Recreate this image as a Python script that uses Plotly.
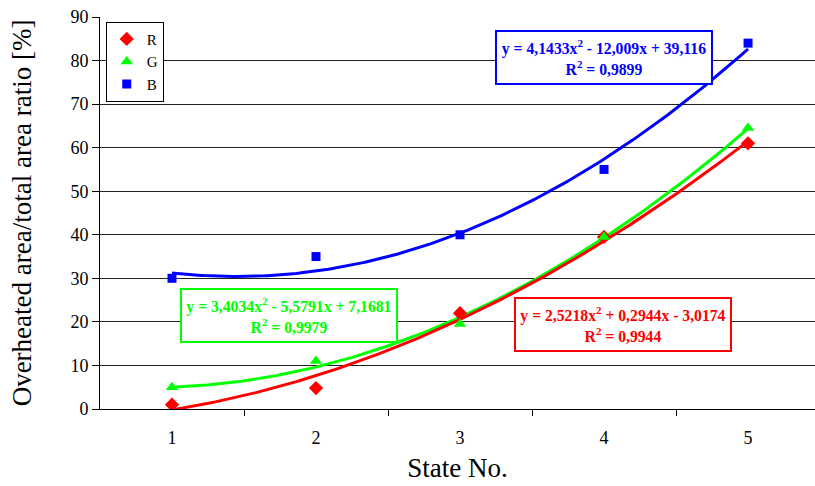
import plotly.graph_objects as go
import numpy as np

states = [1, 2, 3, 4, 5]
r_vals = [1.0, 4.8, 22.0, 39.5, 61.0]
g_vals = [5.0, 11.0, 19.5, 39.5, 64.5]
b_vals = [30.0, 35.0, 40.0, 55.0, 84.0]

# trendline coefficients (a, b, c) for y = a x^2 + b x + c, as shown in the chart labels
r_coef = [2.5218, 0.2944, -3.0174]
g_coef = [3.4034, -5.5791, 7.1681]
b_coef = [4.1433, -12.009, 39.116]

r_eq = "y = 2,5218x<sup>2</sup> + 0,2944x - 3,0174<br>R<sup>2</sup> = 0,9944"
g_eq = "y = 3,4034x<sup>2</sup> - 5,5791x + 7,1681<br>R<sup>2</sup> = 0,9979"
b_eq = "y = 4,1433x<sup>2</sup> - 12,009x + 39,116<br>R<sup>2</sup> = 0,9899"

RED, GREEN, BLUE = "#ff0000", "#00ff00", "#0000ff"
FONT = "Liberation Serif"

xs = np.linspace(1, 5, 200)
def poly(c):
    return c[0] * xs**2 + c[1] * xs + c[2]

fig = go.Figure()
# trend lines
for coef, col in [(b_coef, BLUE), (g_coef, GREEN), (r_coef, RED)]:
    fig.add_trace(go.Scatter(x=xs, y=poly(coef), mode="lines",
                             line=dict(color=col, width=3), showlegend=False,
                             hoverinfo="skip"))
# markers
fig.add_trace(go.Scatter(x=states, y=r_vals, mode="markers", name="R",
                         marker=dict(symbol="diamond", color=RED, size=11)))
fig.add_trace(go.Scatter(x=states, y=g_vals, mode="markers", name="G",
                         marker=dict(symbol="triangle-up", color=GREEN, size=11)))
fig.add_trace(go.Scatter(x=states, y=b_vals, mode="markers", name="B",
                         marker=dict(symbol="square", color=BLUE, size=9)))

def eq_box(text, x, y, col):
    fig.add_annotation(x=x, y=y, xref="x", yref="y", text=text, showarrow=False,
                       font=dict(family=FONT, size=15.7, color=col, weight="bold"),
                       bordercolor=col, borderwidth=2, borderpad=2,
                       bgcolor="white", width=210, height=47, align="center")

eq_box(b_eq, 4.003, 80.8, BLUE)
eq_box(g_eq, 1.8125, 21.4, GREEN)
eq_box(r_eq, 4.135, 19.5, RED)

fig.update_layout(
    width=815, height=486,
    margin=dict(l=100, r=0, t=17, b=77),
    paper_bgcolor="white", plot_bgcolor="white",
    font=dict(family=FONT, color="black"),
    legend=dict(x=0.008, y=0.988, xanchor="left", yanchor="top",
                bordercolor="black", borderwidth=1, bgcolor="white",
                font=dict(family=FONT, size=15), itemwidth=30,
                tracegroupgap=0),
    xaxis=dict(range=[0.5, 5.465], tickvals=states, ticktext=[str(s) for s in states],
               ticks="", showgrid=False, zeroline=False,
               showline=True, linecolor="black", linewidth=1,
               tickfont=dict(size=18, family=FONT), ticklabelstandoff=12,
               minor=dict(tickvals=[1.5, 2.5, 3.5, 4.5], ticks="outside",
                          ticklen=6, tickcolor="black", showgrid=False),
               title=dict(text="State No.", font=dict(size=27, family=FONT), standoff=11)),
    yaxis=dict(range=[0, 90], dtick=10, ticks="outside", ticklen=7, tickcolor="black",
               showgrid=True, gridcolor="#222222", gridwidth=1, zeroline=False,
               showline=True, linecolor="black", linewidth=1,
               tickfont=dict(size=18, family=FONT),
               title=dict(text="Overheated area/total area ratio [%]",
                          font=dict(size=27, family=FONT), standoff=30)),
)

fig.write_html("out.html")
